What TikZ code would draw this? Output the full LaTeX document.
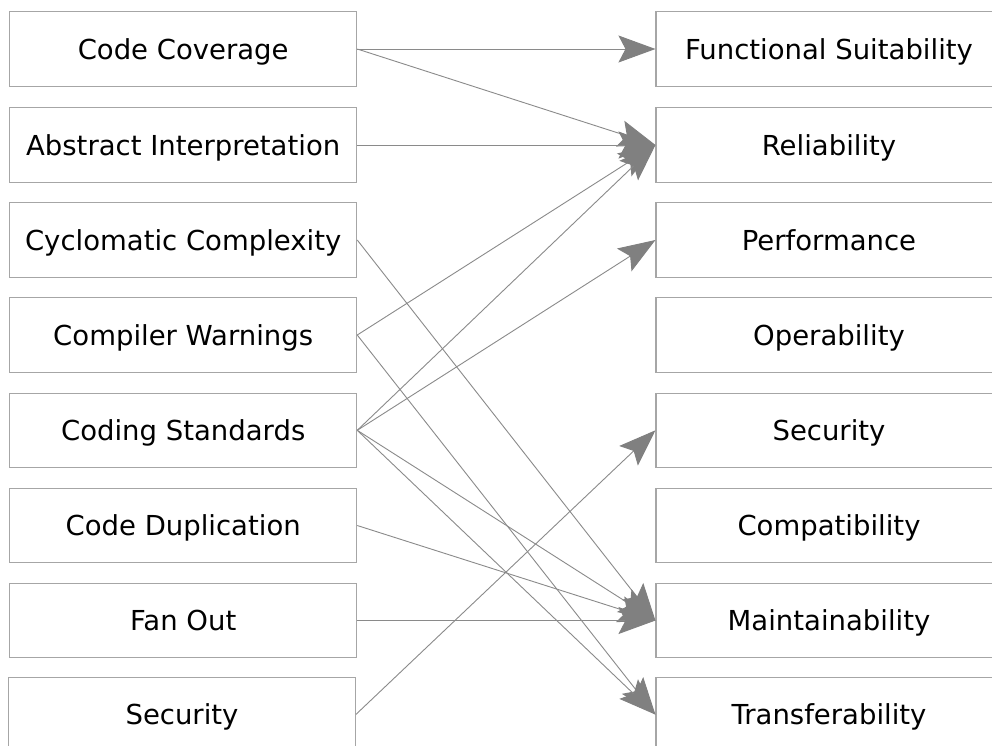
\documentclass[tikz,border=0pt]{standalone}
\usepackage{fontspec}
\setmainfont{DejaVu Sans}
\usetikzlibrary{arrows.meta}
\definecolor{linegray}{HTML}{8A8A8A}
\definecolor{boxgray}{HTML}{A6A6A6}
\definecolor{headgray}{HTML}{808080}
\tikzset{
  boxbase/.style={draw=boxgray, line width=1.1pt, fill=white, minimum height=74.5pt, inner sep=0pt, text height=20pt, text depth=0pt, font=\fontsize{27.5}{30}\selectfont},
  metricbox/.style={boxbase, minimum width=347pt},
  qualbox/.style={boxbase, minimum width=346pt},
  link/.style={draw=linegray, line width=0.9pt, -{Stealth[length=37pt, width=27pt, inset=7pt, fill=headgray, color=headgray]}}
}
\begin{document}
\begin{tikzpicture}[x=1pt, y=-1pt]
\clip (0,0) rectangle (992,745);
\fill[white] (0,0) rectangle (992,745);
% left column
\node[metricbox] (cc)  at (183.2, 49.0)  {Code Coverage};
\node[metricbox] (ai)  at (183.2, 145.0) {Abstract Interpretation};
\node[metricbox] (cyc) at (183.2, 240.0) {Cyclomatic Complexity};
\node[metricbox] (cw)  at (183.2, 335.0) {Compiler Warnings};
\node[metricbox] (cs)  at (183.2, 430.3) {Coding Standards};
\node[metricbox] (dup) at (183.2, 525.5) {Code Duplication};
\node[metricbox] (fan) at (183.2, 620.5) {Fan Out};
\node[metricbox] (sec) at (182.0, 714.3) {Security};
% right column
\node[qualbox] (fs)    at (829.0, 49.0)  {Functional Suitability};
\node[qualbox] (rel)   at (829.0, 145.0) {Reliability};
\node[qualbox] (perf)  at (829.0, 240.0) {Performance};
\node[qualbox] (oper)  at (829.0, 335.0) {Operability};
\node[qualbox] (secr)  at (829.0, 430.3) {Security};
\node[qualbox] (comp)  at (829.0, 525.5) {Compatibility};
\node[qualbox] (maint) at (829.0, 620.5) {Maintainability};
\node[qualbox] (trans) at (829.0, 714.6) {Transferability};
% connectors
\draw[link] (cc.east) -- (fs.west);
\draw[link] (cc.east) -- (rel.west);
\draw[link] (ai.east) -- (rel.west);
\draw[link] (cw.east) -- (rel.west);
\draw[link] (cs.east) -- (rel.west);
\draw[link] (cs.east) -- (perf.west);
\draw[link] (cyc.east) -- (maint.west);
\draw[link] (cw.east) -- (trans.west);
\draw[link] (cs.east) -- (maint.west);
\draw[link] (cs.east) -- (trans.west);
\draw[link] (dup.east) -- (maint.west);
\draw[link] (fan.east) -- (maint.west);
\draw[link] (sec.east) -- (secr.west);
\end{tikzpicture}
\end{document}
